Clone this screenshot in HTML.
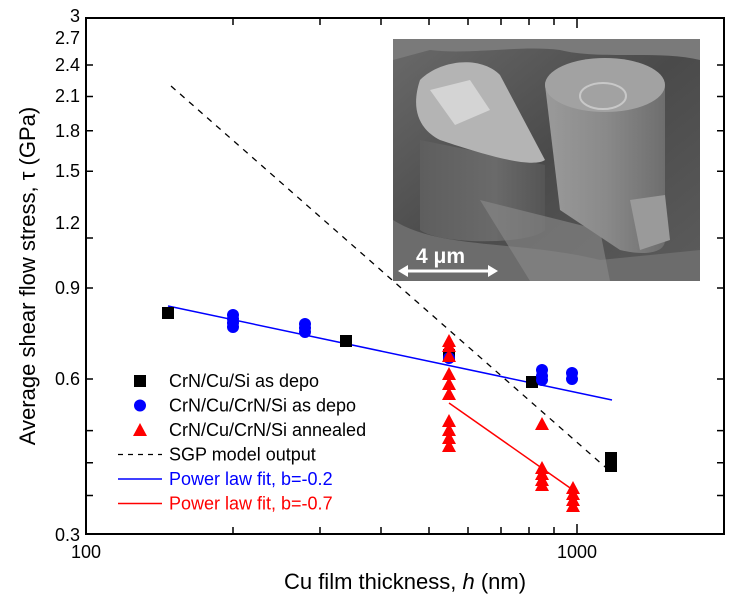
<!DOCTYPE html>
<html><head><meta charset="utf-8"><style>
html,body{margin:0;padding:0;background:#fff;}
svg{display:block;font-family:"Liberation Sans",Arial,sans-serif;}
</style></head><body>
<svg width="742" height="600" viewBox="0 0 742 600" xmlns="http://www.w3.org/2000/svg">
<defs>
<linearGradient id="bg" x1="0" y1="0" x2="1" y2="1"><stop offset="0" stop-color="#6a6a6a"/><stop offset="0.5" stop-color="#4a4a4a"/><stop offset="1" stop-color="#5c5c5c"/></linearGradient>
<linearGradient id="cyl" x1="0" y1="0" x2="1" y2="0"><stop offset="0" stop-color="#9a9a9a"/><stop offset="0.5" stop-color="#8a8a8a"/><stop offset="1" stop-color="#6e6e6e"/></linearGradient>
<linearGradient id="cyl2" x1="0" y1="0" x2="1" y2="0"><stop offset="0" stop-color="#5e5e5e"/><stop offset="0.6" stop-color="#6a6a6a"/><stop offset="1" stop-color="#555"/></linearGradient>
</defs>
<g>
<rect x="393" y="39" width="307" height="242" fill="url(#bg)"/>
<path d="M393 39 L700 39 L700 60 C660 50 600 60 560 50 C520 45 470 55 430 50 L393 60Z" fill="#7a7a7a"/>
<path d="M393 220 C440 250 520 240 600 260 L700 250 L700 281 L393 281Z" fill="#6c6c6c"/>
<path d="M420 140 L420 230 C440 245 530 245 545 230 L545 165 Z" fill="url(#cyl2)"/>
<path d="M480 200 L600 230 L610 281 L530 281Z" fill="#8a8a8a" opacity="0.6"/>
<path d="M420 80 C440 60 480 55 500 75 L545 160 C530 170 470 150 440 140 C420 130 410 110 420 80Z" fill="#b4b4b4"/>
<path d="M430 90 L470 80 L490 110 L455 125Z" fill="#d4d4d4"/>
<path d="M545 85 C545 55 660 55 665 85 L665 240 C665 255 640 255 620 250 L560 210 Z" fill="url(#cyl)"/>
<ellipse cx="605" cy="85" rx="60" ry="27" fill="#a2a2a2"/>
<ellipse cx="603" cy="96" rx="23" ry="13" fill="none" stroke="#c8c8c8" stroke-width="2"/>
<path d="M630 200 L665 195 L670 240 L640 250Z" fill="#9a9a9a"/>
<text x="416" y="263" font-size="21" font-weight="bold" fill="#fff">4 μm</text>
<line x1="404" y1="271" x2="490" y2="271" stroke="#fff" stroke-width="3"/>
<path d="M398 271 L408 265 L408 277Z M498 271 L488 265 L488 277Z" fill="#fff"/>
</g>
<rect x="86" y="18" width="638" height="516" fill="none" stroke="#000" stroke-width="2"/>
<g stroke="#000" stroke-width="1.5">
<path d="M233 534v-7M320 534v-7M381 534v-7M429 534v-7M468 534v-7M501 534v-7M529 534v-7M554 534v-7M577 534v-10M724 534v-7
M233 18v7M320 18v7M381 18v7M429 18v7M468 18v7M501 18v7M529 18v7M554 18v7M577 18v10"/>
<path d="M86 495.5h7M86 462.7h7M86 430.6h7M86 379h7M86 288h7M86 238h7M86 171.3h7M86 130.8h7M86 96.5h7M86 65h7
M724 495.5h-7M724 462.7h-7M724 430.6h-7M724 379h-7M724 288h-7M724 238h-7M724 171.3h-7M724 130.8h-7M724 96.5h-7M724 65h-7"/>
</g>
<g font-size="18" text-anchor="end" fill="#000">
<text x="80" y="541">0.3</text>
<text x="80" y="385">0.6</text>
<text x="80" y="294">0.9</text>
<text x="80" y="229">1.2</text>
<text x="80" y="177">1.5</text>
<text x="80" y="137">1.8</text>
<text x="80" y="102">2.1</text>
<text x="80" y="71">2.4</text>
<text x="80" y="44">2.7</text>
<text x="80" y="22">3</text>
</g>
<g font-size="18" text-anchor="middle">
<text x="86" y="558">100</text>
<text x="577" y="558">1000</text>
</g>
<text x="405" y="589" font-size="22" text-anchor="middle">Cu film thickness, <tspan font-style="italic">h</tspan> (nm)</text>
<text transform="translate(35,276) rotate(-90)" font-size="22" text-anchor="middle">Average shear flow stress, τ (GPa)</text>
<line x1="171" y1="86" x2="612" y2="473" stroke="#000" stroke-width="1.3" stroke-dasharray="6,6"/>
<line x1="168" y1="306" x2="612" y2="400" stroke="#0000ff" stroke-width="1.5"/>
<line x1="449" y1="403" x2="573" y2="490" stroke="#ff0000" stroke-width="1.5"/>
<g fill="#000">
<rect x="162" y="307" width="12" height="12"/>
<rect x="340" y="335" width="12" height="12"/>
<rect x="443" y="349" width="12" height="12"/>
<rect x="526" y="376" width="12" height="12"/>
<rect x="605" y="452" width="12" height="12"/>
<rect x="605" y="460" width="12" height="12"/>
</g>
<g fill="#0000ff">
<circle cx="233" cy="315" r="6"/><circle cx="233" cy="319" r="6"/><circle cx="233" cy="323" r="6"/><circle cx="233" cy="327" r="6"/>
<circle cx="305" cy="324" r="6"/><circle cx="305" cy="328" r="6"/><circle cx="305" cy="332" r="6"/>
<circle cx="449" cy="358" r="6"/>
<circle cx="542" cy="370" r="6"/><circle cx="542" cy="376" r="6"/><circle cx="542" cy="380" r="6"/>
<circle cx="572" cy="373" r="6"/><circle cx="572" cy="379" r="6"/>
</g>
<g fill="#ff0000">
<path d="M449 334l7 13h-14z M449 339l7 13h-14z M449 349l7 13h-14z
M449 367l7 13h-14z M449 377l7 13h-14z M449 387l7 13h-14z
M449 414l7 13h-14z M449 423l7 13h-14z M449 431l7 13h-14z M449 439l7 13h-14z
M542 417l7 13h-14z
M542 461l7 13h-14z M542 467l7 13h-14z M542 473l7 13h-14z M542 478l7 13h-14z
M573 481l7 13h-14z M573 487l7 13h-14z M573 493l7 13h-14z M573 499l7 13h-14z"/>
</g>
<rect x="134" y="375" width="12" height="12" fill="#000"/>
<circle cx="140" cy="405.5" r="6" fill="#0000ff"/>
<path d="M140 423l7 13h-14z" fill="#ff0000"/>
<line x1="118" y1="454.5" x2="162" y2="454.5" stroke="#000" stroke-width="1.3" stroke-dasharray="5,5"/>
<line x1="118" y1="479" x2="162" y2="479" stroke="#0000ff" stroke-width="1.5"/>
<line x1="118" y1="503.5" x2="162" y2="503.5" stroke="#ff0000" stroke-width="1.5"/>
<g font-size="18">
<text x="169" y="387">CrN/Cu/Si as depo</text>
<text x="169" y="411.5">CrN/Cu/CrN/Si as depo</text>
<text x="169" y="436">CrN/Cu/CrN/Si annealed</text>
<text x="169" y="460.5">SGP model output</text>
<text x="169" y="485" fill="#0000ff">Power law fit, b=-0.2</text>
<text x="169" y="509.5" fill="#ff0000">Power law fit, b=-0.7</text>
</g>
</svg>
</body></html>
